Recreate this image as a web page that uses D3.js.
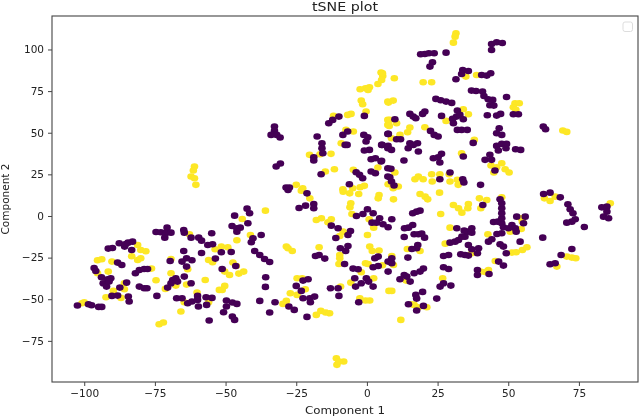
<!DOCTYPE html>
<html><head><meta charset="utf-8">
<script src="https://cdn.jsdelivr.net/npm/d3@7"></script>
<style>html,body{margin:0;padding:0;background:#fff}svg{display:block}text{font-family:"DejaVu Sans",sans-serif;fill:#222}</style>
</head><body><svg id="c" width="640" height="417"></svg>
<script>
const title="tSNE plot", xLabel="Component 1", yLabel="Component 2";
const xTicks=[-100,-75,-50,-25,0,25,50,75];
const yTicks=[-75,-50,-25,0,25,50,75,100];
const classB=[[-100.8,-52.4],[-100,-51.8],[-95.3,-26.6],[-93.8,-26],[-95.3,-34.4],[-91.5,-33.4],[-90.2,-27.4],[-83.2,-24.2],[-81.1,-26.4],[-80,-25.4],[-81.1,-17.4],[-80,-20.4],[-78.2,-21.2],[-76.2,-31.6],[-74.6,-38.6],[-85.8,-40.4],[-85.8,-44],[-89.7,-45],[-92.3,-48.8],[-87,-49.2],[-73.5,-65],[-72,-64],[-69.3,-34.4],[-69.3,-25.8],[-71.3,-43.8],[-67.6,-41.8],[-63.8,-41.2],[-63.4,-32],[-62.8,-11],[-57.2,-38.4],[-60.1,-46],[-65.8,-57.4],[-64.6,-51.8],[-56,-51.8],[-56,-26.4],[-54.6,-27.8],[-53.7,-20],[-52.2,-44.4],
[-35.9,3.2],[-44.1,-1.8],[-41.2,-11.4],[-46,-14.6],[-51.5,-18.4],[-49.2,-18.8],[-47.4,-28],[-46.2,-30],[-50.3,-33.4],[-48.6,-35.4],[-45.3,-34.6],[-43.6,-33.4],[-50.3,-42],[-51.2,-44.4],[-28.5,-18.4],[-27.9,-19.4],[-26.4,-21],[-16.9,-18.8],[-17.9,-2.4],[-16.1,-1.4],[-13.8,-3.8],[-12.6,-2],[-23.2,15.2],[-20.2,10.6],[-8.4,-9.4],[-9.6,-12],[-9.6,-23.4],[-9.6,-25.4],[-9.9,-28.8],[-24.7,-37.4],[-22.9,-37.4],[-21.8,-44],[-27.1,-46.4],[-24.7,-47.4],[-28.5,-51],[-29.7,-52.8],[-17.9,-59.4],[-16.3,-57],[-14.6,-58],[-13.2,-58.4],[-9.3,-42.4],[-10.8,-85.4],[-10.6,-89.4],[-8.2,-87.4],[-9.9,-87.4],[-5.7,7.6],[-6,5.2],[-5.3,1.2],[-8.4,14.6],[-6.1,13.6],[-2.9,13.2],[4.3,12.6],[4,10.6],[0.8,-2],[0.2,-11.4],[2.4,-7],[1,-18.4],[1.9,-21],[4.3,-20.8],[-0.5,-28.4],[0.4,-28.8],[-2,-33.8],[5.5,-29.6],[2.4,-37.4],[-5.7,-40],[-2.5,-49.4],[-0.5,-50.8],[1,-50.8],[7.8,-45],
[9.4,10],[18.8,13.2],[20.6,11.6],[21.5,10],[25.7,14],[26.1,1.2],[30.6,6.6],[32.4,4.6],[33.6,2],[35.9,7.2],[35.7,4.6],[39.8,10.6],[42.4,9.6],[40.3,4.6],[47.7,11.2],[29.4,-7],[27.7,-16.6],[42.8,-11],[50.7,-9.4],[54.6,-1.4],[55,-3.4],[54.6,-7.8],[51.3,-22],[52.8,-21.8],[55,-20.4],[56.6,-18.8],[37.1,-22.4],[45.4,-27],[43,-32.4],[41.8,-33.6],[40.1,-33.4],[26.8,-37.4],[13.9,-38.8],[14.3,-19.8],[18.8,-21],[8.8,-45],[9.4,-29.4],[8.8,-24],[16.7,-53.4],[15.8,-53],[18.2,-54.8],[21.2,-54.8],[12,-62.4],[62.8,10.6],[64.8,9],[66.6,11.6],[86.1,7.6],[70.7,-24.4],[72.5,-25],[73.9,-25.4],[67.2,-30.4],
[-61,29.7],[-61.4,27.3],[-62.2,23.7],[-61,22.7],[-60.5,18.7],[5,86.1],[5.6,84.1],[3.9,79.3],[0.9,77.3],[-0.5,76.7],[-2.4,76.1],[0.4,75.7],[-2,69.3],[-1.5,67.1],[-0.3,62.7],[-5.6,61.3],[-6.8,60.7],[-11.8,60.1],[-7.4,51.7],[-4.8,50.7],[-9.1,43.7],[-20.3,36.7],[-16.6,37.1],[-12.7,37.3],[-14.7,26.7],[-11.5,28.1],[-4.8,27.7],[3.9,29.1],[-25,18.7],[-22.7,16.7],[-8.5,16.1],[-5,16.7],[-2.4,17.3],[-0.9,18.1],[7.4,68.7],[7.4,57.7],[7.4,54.7],
[31.5,109.7],[31.2,107.7],[30.6,104.1],[38.8,84.7],[35,83.7],[19.9,80.3],[22.9,80.3],[5.5,85.7],[5.2,81.7],[9.7,82.7],[7.6,68.1],[9.3,69.3],[34.1,64.1],[35.9,61.1],[28,57.1],[20.5,53.3],[15.2,53.1],[14.4,50.3],[8.1,57.7],[7.9,54.1],[10.5,55.7],[11.7,48.7],[8.7,46.7],[38,45.7],[33.5,37.7],[52.4,67.7],[53.9,67.7],[51.8,65.3],[52.7,63.7],[69.3,51.3],[70.7,50.5],[43.9,30.3],[45.9,29.3],[47.7,31.7],[48.9,28.1],[50.3,26.1],[44.9,26.1],[17,22.1],[18.2,23.7],[19.9,22.1],[22.9,25.1],[23.1,20.7],[25.8,25.1],[29.1,25.1],[29.4,20.7],[32,21.7],[32.3,18.7],[9.9,26.1],[11.1,17.7],[7.5,19.1],[9.3,16.7]];
const classA=[[-102.4,-53.8],[-98.5,-53],[-97.4,-53.6],[-94.9,-54.6],[-93.8,-54.6],[-96.5,-31.2],[-95.9,-33],[-93.9,-36.8],[-93.3,-40.4],[-91.7,-38],[-90.6,-37.4],[-92.1,-42.4],[-91.2,-39.4],[-91.5,-19.6],[-90,-19.2],[-87.6,-16.4],[-85.7,-18.4],[-84.5,-16],[-82.9,-15.4],[-85.3,-16.8],[-83.2,-20.4],[-88.2,-28],[-86.7,-29.4],[-85,-40],[-87.4,-43],[-90.2,-48],[-88.2,-47.8],[-84.4,-48.4],[-84.1,-51.4],[-81.9,-34.4],[-80.5,-32.4],[-78.8,-31.8],[-77.6,-31.8],[-80.5,-42.4],[-78.8,-43.4],[-77.8,-43.4],[-74.3,-48],[-74.6,-9.6],[-72.9,-9.8],[-70.7,-7],[-70.9,-10],[-69.3,-10],[-71.5,-13],[-64.8,-8.4],[-64.6,-10],[-62.2,-13],[-59.5,-13],[-58.5,-14.8],[-54.9,-10.4],[-56.3,-17.4],[-54.6,-17],[-64.8,-21],[-58.5,-22.2],[-69.6,-27],[-65.4,-27.4],[-63.8,-25.4],[-61.9,-26.6],[-63.8,-30.4],[-53.6,-25.6],[-64.6,-36.4],[-67.6,-37.4],[-68.7,-38.4],[-67,-39.4],[-69.3,-40.4],[-70.5,-43],[-62.2,-40.4],[-67.3,-49.4],[-65.4,-49.4],[-63.4,-52.4],[-61.9,-51.4],[-59.9,-48],[-59.9,-50.4],[-59.6,-54.4],[-56.9,-48.8],[-56.7,-53.4],[-54.8,-49.2],[-55.8,-62.8],
[-46.8,0.2],[-41.5,1.6],[-42.4,4.4],[-42.1,-4.4],[-47.7,-6],[-46,-7.4],[-44.8,-7],[-46,-9.4],[-40.9,-15.8],[-40.3,-13.4],[-37.4,-11.4],[-39.7,-21],[-37.9,-23.4],[-36.2,-25.8],[-34.4,-27.6],[-51.5,-21.8],[-48,-21.6],[-51.2,-31.8],[-46.4,-30],[-35.8,-36.8],[-35.9,-42.6],[-37.9,-51],[-32.5,-51.8],[-34.4,-58],[-27.6,-54.4],[-25.7,-56.4],[-21.2,-60.6],[-49.7,-50.8],[-47.6,-52],[-46,-52.8],[-49.7,-54.4],[-50.7,-57.8],[-47.6,-60.4],[-46.8,-62.4],[-24,4.8],[-21.7,6.2],[-18.8,7.2],[-18.8,4.6],[-21.2,13.6],[-27.9,15.6],[-12.6,-5.8],[-10.2,-7.4],[-5.8,-9],[-6.7,-11.4],[-11,-13.2],[-6.7,-18],[-9.4,-19.4],[-7.5,-21],[-18.2,-24],[-16.9,-23.4],[-14.9,-25.6],[-7.9,-28.8],[-20.8,-38],[-22.6,-38.8],[-25,-42],[-23.2,-45],[-22.6,-49.4],[-20.2,-49.4],[-18.5,-48.4],[-20,-51.8],[-12.9,-43.4],[-10.2,-43.4],[-9.9,-48],[-3.7,0],[-1.4,1.2],[0.2,4],[2.2,1.6],[4.5,-1.4],[1.8,-4],[3.4,-4],[5.7,-5],[7.5,-6.8],[2.8,-25.4],[4,-24.4],[2.2,-30.8],[4,-30],[-4.9,-31.6],[-3.1,-32],[-4.3,-37.4],[-4,-42.4],[-2,-40.4],[-0.2,-37.4],[0.6,-39.4],[2.2,-42.4],[-2.9,-51.8],[7.5,-33.4],[7.5,-27.4],
[8.8,-2],[16.2,1.6],[17.6,2.6],[18.8,3.2],[16.2,-5.4],[14.7,-7],[13.3,-7.4],[13.2,-12.6],[16.7,-11],[18.2,-11],[19.4,-10.6],[20.4,-13],[18,-17.4],[17.6,-19.4],[15.9,-19.8],[14.5,-25],[8.8,-25.4],[8.8,-28.4],[20,-31.6],[18.8,-33.4],[16.7,-34.4],[13.2,-35.4],[11.7,-38],[14.1,-36.4],[15.3,-39.4],[19.7,-45.6],[17.3,-47.4],[17.6,-49.6],[14.7,-53],[20,-54],[17.6,-56.8],[24.7,-49.6],[25.9,-42.4],[27.1,-40.4],[29.7,-41.8],[27.1,-30.8],[28.9,-31.8],[27.1,-24],[28.9,-23.4],[29.4,-16],[31.2,-15.4],[32.4,-14.4],[33.6,-12.4],[34.7,-12.4],[35.6,-9.4],[37.1,-7.4],[37.1,-10],[34.4,-8.8],[31.8,-7.4],[35.9,-17.4],[37.1,-20],[39.5,-19.4],[39.1,-22.4],[35.9,-23.8],[33.2,-23],[34.7,-23.4],[39.1,-32.4],[39.1,-35.4],[43.2,-34.8],[46.6,-27.4],[48.3,-29.8],[49.3,-22.4],[43,-15.4],[44.2,-14],[46,-10.8],[47.7,-10.4],[47.1,-17],[48.3,-18.4],[44.8,-3.6],[46.3,-3.4],[47.7,-4.4],[48.3,-6.8],[47.7,-1.4],[47.7,1.6],[47.7,4.6],[47.7,7.6],[47.1,10],[51.3,-5.4],[52.5,-7.4],[52.8,-9.4],[50.1,-7.4],[53,-0.4],[56,-0.4],[55.4,-4.4],[54.2,-15.4],[62.2,-13],[62.5,13.2],[64.8,14],[68.4,11.2],[71.1,7],[71.9,4],[72.9,1.6],[73.7,-2],[72.5,-3.4],[70.7,-4],[76.9,-6.6],[83.1,5.2],[84.9,5.6],[84.9,2.6],[83.7,-0.4],[85.5,-1.4],[72.5,-19.8],[68.7,-23.4],[64.8,-29],[66.6,-28.4],[41,6.6],
[-13.5,55.7],[-12.1,57.7],[-9.9,59.7],[-0.9,60.1],[-8.5,48.7],[-6.8,50.7],[-32.7,53.7],[-32.7,51.1],[-33.9,48.7],[-31.9,48.7],[-30.7,47.1],[-17.6,47.7],[-15.9,43.7],[-15.9,40.7],[-15.6,37.7],[-18.8,35.3],[-18.8,33.3],[-32.1,29.7],[-30.6,31.5],[-7.7,42.7],[-7,42.7],[-1.1,48.7],[0.3,47.3],[-0.3,44.7],[0.9,39.7],[-0.9,39.3],[1.5,34.1],[3,34.7],[5,32.7],[5.4,42.7],[7.4,40.7],[7.4,49.3],[-3.8,26.3],[-2.6,24.7],[-1.5,22.7],[-16.2,25.1],[1.5,26.7],[3,25.7],[-6.2,19.1],[-28.6,17.1],[-27.4,17.1],[7.4,23.7],[7.4,28.7],
[19,97.1],[20.5,97.3],[21.9,97.7],[23.8,97.7],[28,98.1],[44.1,99.7],[44.1,103.3],[45.9,104.3],[47.9,103.9],[23.2,92.3],[22.3,89.7],[33.9,87.7],[33.5,85.3],[35.9,87.1],[40.6,84.7],[42.4,84.3],[43.8,85.7],[31.5,82.1],[37,75.3],[38.6,75.1],[40.9,74.7],[41.4,72.1],[42.9,70.1],[44.5,69.7],[43.5,66.5],[44.9,66.3],[49.4,71.5],[24.4,70.3],[26.1,69.5],[28,68.7],[30,67.9],[20.5,62.7],[19.7,61.3],[15.2,61.3],[16.4,59.7],[17.3,58.7],[9.9,58.1],[26.4,60.1],[32,63.3],[31.7,59.7],[32.9,60.7],[34.1,58.1],[30.3,58.3],[30.6,55.7],[42.6,60.5],[45.9,60.3],[47.3,61.3],[51.8,61.1],[53.6,61.1],[32,51.7],[33.5,51.7],[35.5,51.7],[22.5,51.1],[23.8,48.7],[25.2,47.7],[7.6,49.3],[10.5,46.1],[11.9,46.1],[5.2,42.7],[7.5,42.1],[8.7,39.7],[15.2,43.7],[14.6,40.7],[17.9,43.7],[18.2,38.7],[16.4,42.7],[37.6,43.9],[46.8,52.7],[45.9,49.7],[47.7,48.7],[45.9,42.1],[47.7,43.3],[49.4,43.3],[46.5,39.3],[49.2,40.7],[52.6,40.1],[54.4,39.7],[62.4,53.7],[63.2,52.1],[26.4,37.3],[25.2,35.3],[23.5,34.7],[25.8,32.1],[34.1,35.7],[13.1,33.3],[5.2,33.1],[8.5,28.3],[43.5,36.7],[41.8,33.7],[44.1,33.7],[45.3,27.3],[29.4,26.1],[25.8,22.1],[33.9,22.1],[34.3,20.1],[40.2,18.7],[8.1,23.3],[8.7,20.7],[9.6,18.3]];

const svg=d3.select("#c");
const L=52,R=638,T=16,B=382;
const x=d3.scaleLinear().domain([-111.4,95.9]).range([L,R]);
const y=d3.scaleLinear().domain([-99.7,120.1]).range([B,T]);

const defs=svg.append("defs");
defs.append("filter").attr("id","soft").attr("x","-2%").attr("y","-2%").attr("width","104%").attr("height","104%")
  .append("feGaussianBlur").attr("stdDeviation",0.45);
const root=svg.append("g").attr("filter","url(#soft)");

const marks=root.append("g");
const drawMarks=(cls,data,color)=>marks.selectAll("ellipse."+cls).data(data).join("ellipse").attr("class",cls)
  .attr("cx",d=>x(d[0])).attr("cy",d=>y(d[1])).attr("rx",3.8).attr("ry",3.3).attr("fill",color);
drawMarks("b",classB,"#fde725");
drawMarks("a",classA,"#440154");

const fmt=d=>String(d).replace("-","\u2212");
const gx=root.append("g").attr("transform",`translate(0,${B})`)
  .call(d3.axisBottom(x).tickValues(xTicks).tickSize(4).tickPadding(4).tickFormat(fmt));
const gy=root.append("g").attr("transform",`translate(${L},0)`)
  .call(d3.axisLeft(y).tickValues(yTicks).tickSize(4).tickPadding(4).tickFormat(fmt));
[gx,gy].forEach(g=>{g.select(".domain").remove();g.selectAll("line").attr("stroke","#444");g.selectAll("text").attr("font-size",10.5).attr("font-family",'"DejaVu Sans"').attr("fill","#222");});

root.append("rect").attr("x",L).attr("y",T).attr("width",R-L).attr("height",B-T).attr("fill","none").attr("stroke","#444").attr("stroke-width",1.1);
root.append("rect").attr("x",623).attr("y",22).attr("width",9.5).attr("height",9.5).attr("rx",2).attr("fill","#fff").attr("stroke","#ddd").attr("stroke-width",1);

root.append("text").attr("x",345).attr("y",11).attr("text-anchor","middle").attr("font-size",12)
  .attr("textLength",66).attr("lengthAdjust","spacingAndGlyphs").text(title);
root.append("text").attr("x",345).attr("y",414).attr("text-anchor","middle").attr("font-size",10.5)
  .attr("textLength",80).attr("lengthAdjust","spacingAndGlyphs").text(xLabel);
root.append("text").attr("transform","translate(9,199) rotate(-90)").attr("text-anchor","middle").attr("font-size",10.5).text(yLabel);
</script></body></html>
